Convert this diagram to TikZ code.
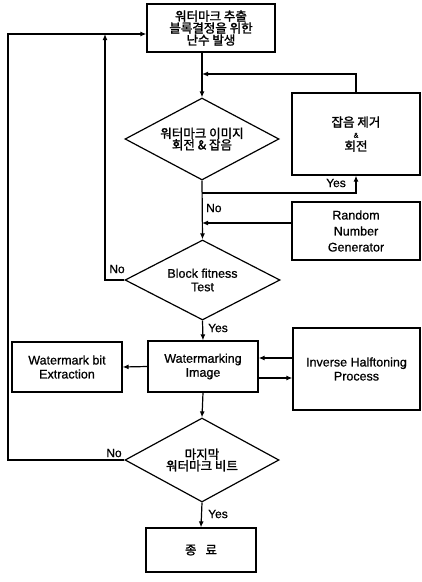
\documentclass[tikz,border=0pt]{standalone}
\usepackage{fontspec}
\setmainfont{Liberation Sans}[FakeBold=0.8]
\newfontfamily\kr{Noto Sans CJK KR}[FakeBold=1.6]
\usetikzlibrary{shapes.geometric,arrows.meta}
\tikzset{
  box/.style={draw,line width=1.2pt,rectangle,align=center,inner sep=1pt,font=\fontsize{12.5}{14}\selectfont},
  dia/.style={draw,line width=1.2pt,diamond,align=center,inner sep=0pt,font=\fontsize{12.5}{13.5}\selectfont},
  arr/.style={line width=1.2pt,-{Latex[length=6pt,width=5pt]}},
  lbl/.style={font=\fontsize{12}{13}\selectfont,inner sep=0pt}
}
\begin{document}
\begin{tikzpicture}[x=1pt,y=-1pt]
\useasboundingbox (0,0) rectangle (422,582);
% nodes
\node[box,minimum width=128pt,minimum height=48pt] (t) at (211,28)
  {\kr 워터마크 추출\\[-2pt]\kr 블록결정을 위한\\[-2pt]\kr 난수 발생};
\node[dia,minimum width=154pt,minimum height=82pt,shape aspect=1.88] (d1) at (202,139)
  {\kr 워터마크 이미지\\[-2pt]\kr 회전 \& 잡음};
\node[box,minimum width=128pt,minimum height=82pt] (nr) at (356,134)
  {\kr 잡음 제거\\[-3pt]{\fontsize{7}{7}\selectfont\&}\\[-1pt]\kr 회전};
\node[box,minimum width=128pt,minimum height=58pt,font=\fontsize{12.5}{16}\selectfont] (rng) at (356,231)
  {Random\\Number\\Generator};
\node[dia,minimum width=155pt,minimum height=80pt,shape aspect=1.94] (d2) at (202.5,280)
  {Block fitness\\Test};
\node[box,minimum width=110pt,minimum height=51pt] (wi) at (203,366.5)
  {Watermarking\\Image};
\node[box,minimum width=110pt,minimum height=50pt] (wbe) at (67,367)
  {Watermark bit\\Extraction};
\node[box,minimum width=127pt,minimum height=82pt] (ihp) at (356.5,369)
  {Inverse Halftoning\\Process};
\node[dia,minimum width=154pt,minimum height=84pt,shape aspect=1.83] (d3) at (202,460)
  {\kr 마지막\\[-2pt]\kr 워터마크 비트};
\node[box,minimum width=110pt,minimum height=44pt] (end) at (201,550)
  {\kr 종\hspace{9pt}료};
% junction coordinates
\coordinate (j1) at (202,74);
\coordinate (j2) at (202,193);
\coordinate (j3) at (202,223);
\coordinate (j4) at (105,34);
\coordinate (lt) at (8,34);
\coordinate (lb) at (8,460);
\coordinate (ya) at (0,358);
\coordinate (yb) at (0,378);
% connectors
\draw[arr] (t.south -| d1.north) -- (d1.north);
\draw[arr] (nr.north) |- (j1);
\draw[arr] (d1.south) -- (d2.north);
\draw[arr] (j2) -| (nr.south);
\draw[arr] (rng.west |- j3) -- (j3);
\draw[arr] (d2.west) -| (j4);
\draw[arr] (d3.west) -- (lb) -- (lt) -- (t.west |- lt);
\draw[arr] (d2.south) -- (wi.north);
\draw[arr] (wi.west) -- (wbe.east);
\draw[arr] (ihp.west |- ya) -- (wi.east |- ya);
\draw[arr] (wi.east |- yb) -- (ihp.west |- yb);
\draw[arr] (wi.south) -- (d3.north);
\draw[arr] (d3.south) -- (end.north);
% labels
\node[lbl,anchor=west] (lno1) at (206,208) {No};
\node[lbl] (lyes1) at (336,183) {Yes};
\node[lbl] (lno2) at (117,269) {No};
\node[lbl,anchor=west] (lyes2) at (208,328) {Yes};
\node[lbl] (lno3) at (114,453) {No};
\node[lbl,anchor=west] (lyes3) at (208,514) {Yes};
\end{tikzpicture}
\end{document}
